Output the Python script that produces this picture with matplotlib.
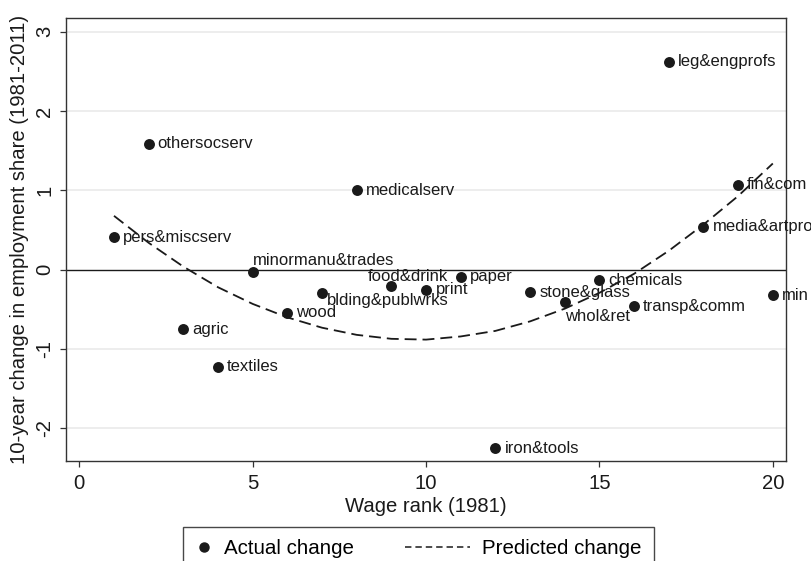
import numpy as np
import matplotlib
matplotlib.use("Agg")
import matplotlib.pyplot as plt
from matplotlib.lines import Line2D
from matplotlib.legend_handler import HandlerBase

plt.rcParams['font.family'] = ['Liberation Sans', 'DejaVu Sans']

# Industries ordered by 1981 wage rank
industries = ["pers&miscserv", "othersocserv", "agric", "textiles", "minormanu&trades",
              "wood", "blding&publwrks", "medicalserv", "food&drink", "print",
              "paper", "iron&tools", "stone&glass", "whol&ret", "chemicals",
              "transp&comm", "leg&engprofs", "media&artpro", "fin&com", "min"]
wage_rank = list(range(1, 21))
actual_change = [0.41, 1.59, -0.75, -1.22, -0.03, -0.54, -0.29, 1.00, -0.21, -0.26,
                 -0.09, -2.25, -0.28, -0.41, -0.13, -0.46, 2.62, 0.54, 1.07, -0.32]
predicted_change = [0.68, 0.34, 0.04, -0.22, -0.43, -0.60, -0.73, -0.82, -0.87, -0.88,
                    -0.84, -0.77, -0.65, -0.49, -0.29, -0.05, 0.24, 0.57, 0.93, 1.34]

x_ticks = [0, 5, 10, 15, 20]
y_ticks = [-2, -1, 0, 1, 2, 3]

# Label offsets in pixels (dx, dy) relative to each marker
label_offsets = {
    "minormanu&trades": (0, 12),
    "food&drink": (-24, 10),
    "blding&publwrks": (5, -8),
    "print": (10, 1),
    "whol&ret": (0, -14),
}

INK = "#1a1a1a"
AX_FONT = 14.6


class LongLineHandler(HandlerBase):
    """Legend handle whose line reaches further left than its handle box."""

    def __init__(self, extra=2.3, **kw):
        super().__init__(**kw)
        self.extra = extra

    def create_artists(self, legend, orig_handle, xdescent, ydescent,
                       width, height, fontsize, trans):
        y = height / 2 - ydescent
        x0 = -xdescent - self.extra * fontsize
        x1 = -xdescent + width
        line = Line2D([x0, x1], [y, y], color=orig_handle.get_color(),
                      lw=orig_handle.get_linewidth())
        line.set_dashes((4.2, 2.6))
        line.set_transform(trans)
        return [line]


fig = plt.figure(figsize=(8.12, 5.61), dpi=100)
ax = fig.add_axes([66 / 812, 1 - 461 / 561, (786 - 66) / 812, (461 - 18.3) / 561])

ax.set_xlim(-0.384, 20.38)
ax.set_ylim(-2.41, 3.17)

for t in y_ticks:
    if t != 0:
        ax.axhline(t, color="#e8e8e8", lw=1.1, zorder=0)
ax.axhline(0, color=INK, lw=1.0, zorder=1)

ax.scatter(wage_rank, actual_change, s=62, color=INK, zorder=3, linewidths=0)
ax.plot(wage_rank, predicted_change, color=INK, lw=1.3,
        linestyle=(0, (6.6, 3.3)), zorder=2)

for name, xi, yi in zip(industries, wage_rank, actual_change):
    dx, dy = label_offsets.get(name, (9, 0))
    ax.annotate(name, (xi, yi), xytext=(dx, dy), textcoords="offset pixels",
                ha="left", va="center", fontsize=12, color=INK,
                annotation_clip=False, clip_on=False, zorder=4)

ax.set_xticks(x_ticks)
ax.set_yticks(y_ticks)
ax.set_yticklabels([str(t) for t in y_ticks], rotation=90, va="center")
ax.tick_params(axis="both", direction="out", length=4.3, width=0.9,
               color="#333333", labelsize=AX_FONT, labelcolor=INK)
ax.tick_params(axis="x", pad=5.0)
ax.tick_params(axis="y", pad=4)

for s in ax.spines.values():
    s.set_color("#333333")
    s.set_linewidth(1.0)

ax.set_xlabel("Wage rank (1981)", fontsize=AX_FONT, color=INK, labelpad=3)
ax.set_ylabel("10-year change in employment share (1981-2011)", fontsize=AX_FONT,
              color=INK, labelpad=5)

dot_handle = Line2D([], [], marker="o", linestyle="none", color=INK, markersize=6.5)
dash_handle = Line2D([], [], color=INK, lw=1.1, linestyle="--")
leg = fig.legend([dot_handle, dash_handle], ["Actual change", "Predicted change"],
                 loc="upper left", bbox_to_anchor=(183 / 812, 1 - 527 / 561),
                 borderaxespad=0, ncol=2, fontsize=14.8,
                 frameon=True, fancybox=False, edgecolor=INK,
                 handlelength=0.8, handletextpad=0.6, columnspacing=4.85,
                 borderpad=0.6,
                 handler_map={dash_handle: LongLineHandler(extra=2.35)})
leg.get_frame().set_linewidth(1.0)

fig.savefig("out.png", dpi=100)
